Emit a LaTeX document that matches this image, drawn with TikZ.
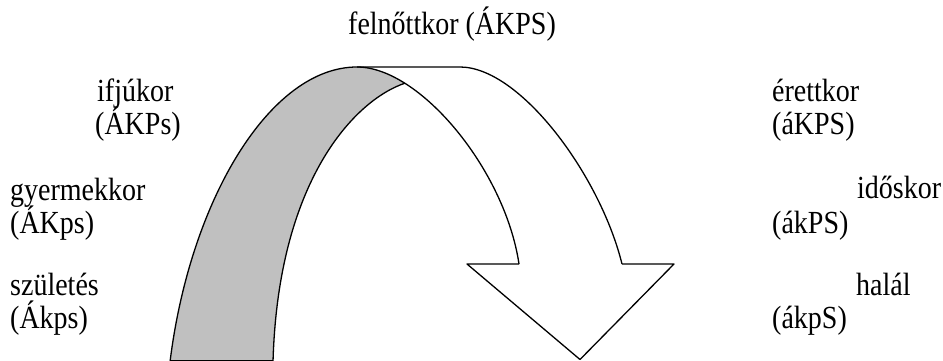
\documentclass[tikz,border=0pt]{standalone}
\usepackage{fontspec}
\setmainfont{Liberation Serif}
\newcommand{\tallt}[1]{\scalebox{1}[1.15]{#1}}
\begin{document}
\begin{tikzpicture}[x=1pt,y=-1pt,
  lbl/.style={anchor=base west,inner sep=0pt,font=\fontsize{28}{32}\selectfont},
  edge/.style={line width=1.3pt,line join=round,draw=black},
  band/.style={fill={rgb,255:red,192;green,192;blue,192}}]
\useasboundingbox (0,0) rectangle (943,361);
% named points of the ribbon
\coordinate (lb) at (170,362);
\coordinate (top) at (357,67);
\coordinate (meet) at (404.9,83.2);
\coordinate (ib) at (273,362);
\coordinate (tr) at (460,67);
\coordinate (ie) at (519,264);
\coordinate (oe) at (622,264);
\coordinate (wr) at (674,264);
\coordinate (wl) at (467,264);
\coordinate (tip) at (580,359.5);
% grey back face of the ribbon
\path[band] (lb) .. controls (190,200) and (270,67) .. (top)
  .. controls (372.1,67) and (388.5,72.9) .. (meet)
  .. controls (355,100) and (278,180) .. (ib) -- cycle;
% edges
\draw[edge] (lb) .. controls (190,200) and (270,67) .. (top)
  .. controls (420,67) and (505,170) .. (ie);
\draw[edge] (meet) .. controls (355,100) and (278,180) .. (ib);
\draw[edge] (top) -- (tr) .. controls (520,67) and (600,175) .. (oe);
\draw[edge] (oe) -- (wr) -- (tip) -- (wl) -- (ie);
\draw[edge] (170,360.5) -- (273,360.5);
% labels
\node[lbl] (felnott) at (348,35) {\tallt{felnőttkor (ÁKPS)}};
\node[lbl] (ifju1) at (97,102) {\tallt{ifjúkor}};
\node[lbl] (ifju2) at (95,134) {\tallt{(ÁKPs)}};
\node[lbl] (gyer1) at (10,200) {\tallt{gyermekkor}};
\node[lbl] (gyer2) at (10,233) {\tallt{(ÁKps)}};
\node[lbl] (szul1) at (10,295) {\tallt{születés}};
\node[lbl] (szul2) at (10,328) {\tallt{(Ákps)}};
\node[lbl] (eret1) at (772,102) {\tallt{érettkor}};
\node[lbl] (eret2) at (772,134) {\tallt{(áKPS)}};
\node[lbl] (ido1) at (857,198) {\tallt{időskor}};
\node[lbl] (ido2) at (772,233) {\tallt{(ákPS)}};
\node[lbl] (hal1) at (856,295) {\tallt{halál}};
\node[lbl] (hal2) at (772,328) {\tallt{(ákpS)}};
\end{tikzpicture}
\end{document}
